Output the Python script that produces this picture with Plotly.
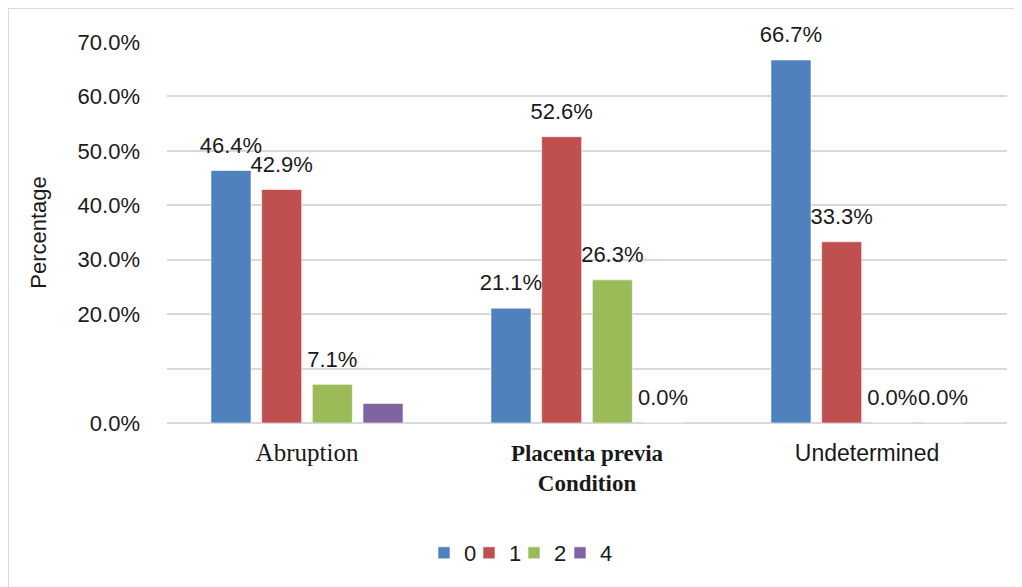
import plotly.graph_objects as go

categories = ["Abruption", "Placenta previa Condition", "Undetermined"]
category_labels = [
    "<span style='font-family:Liberation Serif;font-size:25px'>Abruption</span>",
    "<span style='font-family:Liberation Serif'><b>Placenta previa</b><br><b>Condition</b></span>",
    "Undetermined",
]
series_names = ["0", "1", "2", "4"]
values_0 = [46.4, 21.1, 66.7]
values_1 = [42.9, 52.6, 33.3]
values_2 = [7.1, 26.3, 0.0]
values_4 = [3.6, 0.0, 0.0]
show_label_4 = [False, True, True]
colors = ["#4F81BD", "#C0504D", "#9BBB59", "#8064A2"]
y_tickvals = [0, 10, 20, 30, 40, 50, 60, 70]
y_ticktext = ["0.0%", "", "20.0%", "30.0%", "40.0%", "50.0%", "60.0%", "70.0%"]

all_values = [values_0, values_1, values_2, values_4]
all_show = [[True] * 3, [True] * 3, [True] * 3, show_label_4]

# page body has an 8px margin, so figure coordinates are offset by 8px
OFF = 8
W, H = 1022 - OFF, 587 - OFF
L, R, T, B = 167 - OFF, 1007 - OFF, 42 - OFF, 423 - OFF
BARGAP = 0.276
LEGEND_LEFT = [424, 469, 514, 560]

def px(x):
    return (x - OFF - L) / (R - L)

def py(y):
    return (B - (y - OFF)) / (B - T)

legend_ids = ["legend", "legend2", "legend3", "legend4"]

fig = go.Figure()
for i, (name, vals, col) in enumerate(zip(series_names, all_values, colors)):
    fig.add_trace(go.Bar(
        x=categories, y=vals, name=name,
        marker=dict(color=col, line=dict(color="rgba(255,255,255,0.6)", width=1)),
        legend=legend_ids[i],
        hoverinfo="skip",
    ))

# value labels: text scatter traces grouped like the bars
for name, vals, shows in zip(series_names, all_values, all_show):
    fig.add_trace(go.Scatter(
        x=categories, y=vals, mode="markers+text",
        marker=dict(size=18, opacity=0),
        text=[f"{v:.1f}%" if s else "" for v, s in zip(vals, shows)],
        textposition="top center",
        textfont=dict(family="Liberation Sans", size=22, color="#1a1a1a"),
        cliponaxis=False, showlegend=False, hoverinfo="skip",
    ))

legend_layouts = {}
for lid, lx in zip(legend_ids, LEGEND_LEFT):
    legend_layouts[lid] = dict(orientation="h", x=px(lx), y=py(553), xanchor="left",
                               yanchor="middle", font=dict(size=22), itemwidth=30,
                               bgcolor="rgba(0,0,0,0)")

fig.update_layout(
    width=W, height=H,
    margin=dict(l=L, r=W - R, t=T, b=H - B),
    paper_bgcolor="white", plot_bgcolor="white",
    barmode="group", bargap=BARGAP, bargroupgap=0.21,
    scattermode="group", scattergap=BARGAP,
    font=dict(family="Liberation Sans", size=22, color="#1a1a1a"),
    showlegend=True,
    **legend_layouts,
    xaxis=dict(tickvals=categories, ticktext=category_labels, showgrid=False,
               showline=False, ticks="", tickfont=dict(size=23), ticklabelstandoff=14,
               automargin=False),
    yaxis=dict(range=[0, 70], tickvals=y_tickvals, ticktext=y_ticktext,
               showgrid=True, gridcolor="#d9d9d9", gridwidth=1.5,
               zeroline=True, zerolinecolor="#d9d9d9", zerolinewidth=1.5,
               showline=False, ticklabelstandoff=26, automargin=False,
               title=dict(text="Percentage", standoff=24, font=dict(size=22))),
    shapes=[
        dict(type="line", xref="paper", yref="paper", x0=px(8), x1=px(8), y0=py(8), y1=py(600),
             line=dict(color="#d9d9d9", width=2)),
        dict(type="line", xref="paper", yref="paper", x0=px(8), x1=px(1030), y0=py(8), y1=py(8),
             line=dict(color="#d9d9d9", width=2)),
    ],
)

fig.write_html("out.html")
